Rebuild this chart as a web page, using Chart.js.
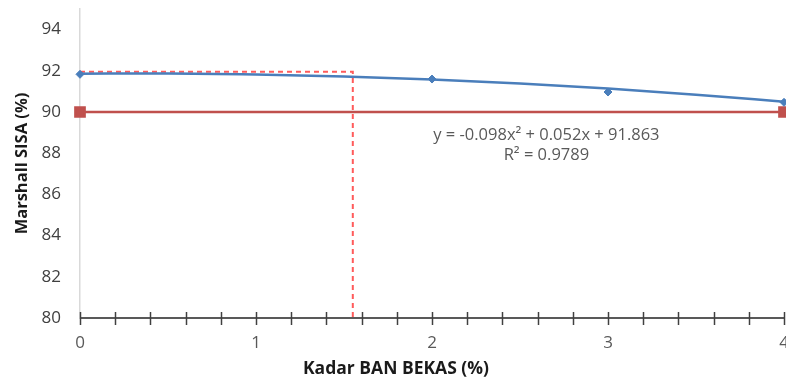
<!DOCTYPE html>
<html>
<head>
<meta charset="utf-8">
<script src="https://cdn.jsdelivr.net/npm/chart.js@4"></script>
<style>
  html, body { margin: 0; padding: 0; background: #fff; overflow: hidden; }
  /* the source picture is cropped on the right, so the canvas runs a little past the window */
  #wrap { width: 793px; height: 381px; }
</style>
</head>
<body>
<div id="wrap"><canvas id="marshallChart"></canvas></div>
<script>
// measured points (Kadar BAN BEKAS %, Marshall SISA %)
const pointX = [0, 2, 3, 4];
const pointY = [91.83, 91.6, 90.97, 90.47];

// polynomial trend line
const trendX = [0, 0.5, 1, 1.5, 2, 2.5, 3, 3.5, 4];
const trendY = [91.86, 91.87, 91.82, 91.72, 91.58, 91.38, 91.14, 90.84, 90.5];

// minimum spec line (90 %)
const specX = [0, 4];
const specY = [90, 90];

// optimum reading guide
const guideX = [0, 1.55, 1.55];
const guideY = [91.95, 91.95, 80];

const yTicks = [80, 82, 84, 86, 88, 90, 92, 94];
const xTicks = [0, 0.2, 0.4, 0.6, 0.8, 1, 1.2, 1.4, 1.6, 1.8, 2, 2.2, 2.4, 2.6, 2.8, 3, 3.2, 3.4, 3.6, 3.8, 4];

const eqLines = ['y = -0.098x\u00B2 + 0.052x + 91.863', 'R\u00B2 = 0.9789'];

const toXY = (xs, ys) => xs.map((x, i) => ({ x: x, y: ys[i] }));

// draws the cross-shaped tick marks, the x title and the trend equation
const extrasPlugin = {
  id: 'extras',
  afterDatasetsDraw(chart) {
    const ctx = chart.ctx;
    const xs = chart.scales.x;
    const ys = chart.scales.y;
    const area = chart.chartArea;
    ctx.save();
    ctx.strokeStyle = '#404040';
    ctx.lineWidth = 1.5;
    xTicks.forEach(v => {
      const px = Math.round(xs.getPixelForValue(v)) + 0.5;
      ctx.beginPath();
      ctx.moveTo(px, area.bottom - 6);
      ctx.lineTo(px, area.bottom + 7);
      ctx.stroke();
    });
    ctx.fillStyle = '#595959';
    ctx.font = '16.5px "Open Sans"';
    ctx.textAlign = 'center';
    ctx.textBaseline = 'middle';
    ctx.fillText(eqLines[0], xs.getPixelForValue(2.65), ys.getPixelForValue(88.88));
    ctx.fillText(eqLines[1], xs.getPixelForValue(2.65), ys.getPixelForValue(87.9));
    ctx.fillStyle = '#1a1a1a';
    ctx.font = 'bold 17.5px "Open Sans"';
    ctx.fillText('Kadar BAN BEKAS (%)', 396, 369);
    ctx.restore();
  }
};

new Chart(document.getElementById('marshallChart').getContext('2d'), {
  type: 'scatter',
  data: {
    datasets: [
      {
        label: 'Trend',
        data: toXY(trendX, trendY),
        showLine: true,
        borderColor: '#4a7ebb',
        borderWidth: 2.5,
        pointRadius: 0,
        cubicInterpolationMode: 'monotone',
        clip: false
      },
      {
        label: 'Marshall SISA',
        data: toXY(pointX, pointY),
        showLine: false,
        pointStyle: 'rectRot',
        pointRadius: 4,
        backgroundColor: '#4a7ebb',
        borderColor: '#4a7ebb',
        clip: false
      },
      {
        label: 'Batas',
        data: toXY(specX, specY),
        showLine: true,
        borderColor: '#c0504d',
        borderWidth: 2.5,
        pointStyle: 'rect',
        pointRadius: 6.5,
        backgroundColor: '#c0504d',
        pointBorderColor: '#c0504d',
        clip: false
      },
      {
        label: 'Optimum',
        data: toXY(guideX, guideY),
        showLine: true,
        borderColor: '#ff5b5b',
        borderWidth: 2,
        borderDash: [5, 4],
        pointRadius: 0,
        tension: 0,
        clip: false
      }
    ]
  },
  options: {
    responsive: true,
    maintainAspectRatio: false,
    animation: false,
    layout: { padding: { left: 10, right: 0, top: 9, bottom: 6 } },
    plugins: {
      legend: { display: false },
      tooltip: { enabled: false }
    },
    scales: {
      x: {
        type: 'linear',
        min: 0,
        max: 4,
        afterBuildTicks: s => { s.ticks = xTicks.map(v => ({ value: v })); },
        afterFit: s => { s.height = 57; s.paddingLeft = 0; s.paddingRight = 0; },
        grid: { display: false, drawTicks: false },
        border: { display: true, color: '#595959', width: 2 },
        ticks: {
          autoSkip: false,
          maxRotation: 0,
          padding: 15,
          color: '#595959',
          font: { family: 'Open Sans', size: 17 },
          callback: v => Math.abs(v - Math.round(v)) < 1e-6 ? String(Math.round(v)) : ''
        }
      },
      y: {
        min: 80,
        max: 95,
        afterBuildTicks: s => { s.ticks = yTicks.map(v => ({ value: v })); },
        afterFit: s => { s.width = 70; s.paddingTop = 0; s.paddingBottom = 0; },
        grid: { display: false, drawTicks: false },
        border: { display: true, color: '#d9d9d9', width: 1.5 },
        ticks: {
          padding: 19,
          color: '#404040',
          font: { family: 'Open Sans', size: 17 }
        },
        title: {
          display: true,
          text: 'Marshall SISA (%)',
          color: '#1a1a1a',
          font: { family: 'Open Sans', size: 16.5, weight: 'bold' },
          padding: { top: 2, bottom: 0 }
        }
      }
    }
  },
  plugins: [extrasPlugin]
});
</script>
</body>
</html>
